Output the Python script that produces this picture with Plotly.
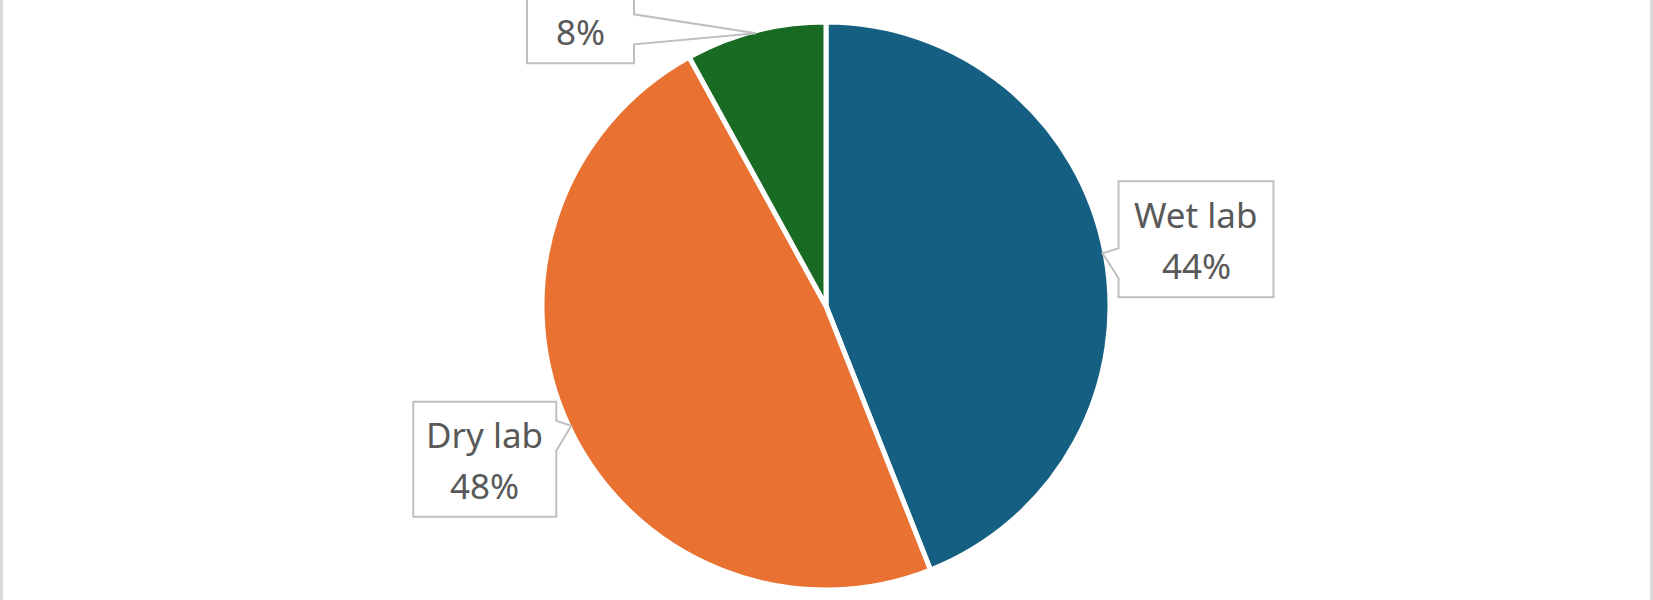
import math
import plotly.graph_objects as go

# data
labels = ["Wet lab", "Dry lab", "Other"]
values = [44, 48, 8]
colors = ["#156082", "#E97132", "#196B24"]

W, H = 1653, 600
CX, CY, R = 826, 306, 284   # pie centre / radius in pixels
GAP = 5


def px(x, y):
    return x / W, 1 - y / H


fig = go.Figure()
fig.add_trace(go.Pie(labels=labels, values=values, sort=False,
                     direction="clockwise", rotation=0,
                     marker=dict(colors=colors, line=dict(color="white", width=GAP)),
                     textinfo="none", hoverinfo="label+percent",
                     showlegend=False,
                     domain=dict(x=[0, 2 * CX / W],
                                 y=[1 - (CY + R) / H, 1 - (CY - R) / H])))

# callout tips sit on the pie edge at each slice mid-angle
total = sum(values)
tips = []
acc = 0
for v in values:
    mid = (acc + v / 2) / total * 2 * math.pi
    acc += v
    r = R - GAP / 2
    tips.append((CX + r * math.sin(mid), CY - r * math.cos(mid)))

# box geometry relative to the tip
boxes = [
    dict(dx0=16, dy0=-72, w=155, h=116, side="left", b0=-5, b1=25),
    dict(dx0=-158, dy0=-24, w=143, h=115, side="right", b0=-5, b1=25),
    dict(dx0=-229, dy0=-86, w=107, h=116, side="right", b0=-19, b1=11),
]
pcts = [f"{round(v / total * 100)}%" for v in values]
names = ["Wet lab", "Dry lab", None]

shapes = []
annots = []
for (tx, ty), b, pct, nm in zip(tips, boxes, pcts, names):
    x0 = tx + b["dx0"]
    y0 = ty + b["dy0"]
    x1 = x0 + b["w"]
    y1 = y0 + b["h"]
    if b["side"] == "left":
        pts = [(x0, y0), (x1, y0), (x1, y1), (x0, y1), (x0, ty + b["b1"]),
               (tx, ty), (x0, ty + b["b0"])]
    else:
        pts = [(x0, y0), (x1, y0), (x1, ty + b["b0"]), (tx, ty),
               (x1, ty + b["b1"]), (x1, y1), (x0, y1)]
    path = "M " + " L ".join(f"{px(x, y)[0]:.5f},{px(x, y)[1]:.5f}" for x, y in pts) + " Z"
    shapes.append(dict(type="path", xref="paper", yref="paper", path=path,
                       fillcolor="white", line=dict(color="#BFBFBF", width=2)))
    cx = (x0 + x1) / 2
    cy = (y0 + y1) / 2
    if nm:
        annots.append(dict(x=px(cx, cy - 25)[0], y=px(cx, cy - 25)[1], text=nm))
    annots.append(dict(x=px(cx, cy + 26)[0], y=px(cx, cy + 26)[1], text=pct))

for a in annots:
    a.update(xref="paper", yref="paper", showarrow=False, xanchor="center",
             yanchor="middle", font=dict(family="Noto Sans", size=35, color="#595959"))

# grey frame edges at left/right
shapes.append(dict(type="rect", xref="paper", yref="paper", x0=0, x1=3 / W, y0=0, y1=1,
                   fillcolor="#D9D9D9", line=dict(width=0)))
shapes.append(dict(type="rect", xref="paper", yref="paper", x0=1 - 3 / W, x1=1, y0=0, y1=1,
                   fillcolor="#D9D9D9", line=dict(width=0)))

fig.update_layout(width=W, height=H, margin=dict(l=0, r=0, t=0, b=0),
                  paper_bgcolor="white", plot_bgcolor="white",
                  shapes=shapes, annotations=annots)

fig.write_html("out.html", config={"displayModeBar": False},
               post_script="document.body.style.margin='0';")
